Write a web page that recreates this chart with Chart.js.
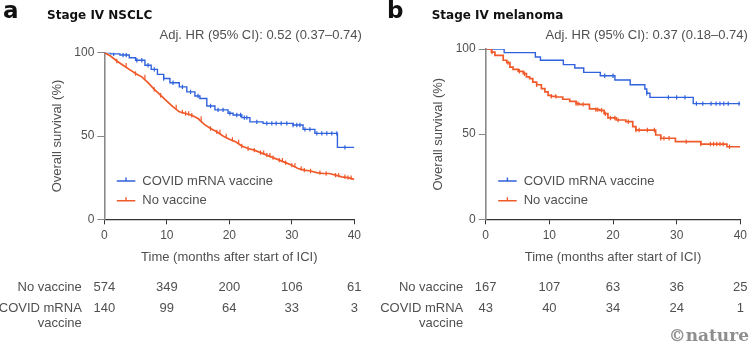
<!DOCTYPE html>
<html>
<head>
<meta charset="utf-8">
<script src="https://cdn.jsdelivr.net/npm/chart.js@4.4.1/dist/chart.umd.min.js"></script>
<style>
  html, body { margin: 0; padding: 0; background: #fff; }
  #wrap { position: relative; width: 751px; height: 348px; overflow: hidden; }
  #wrap canvas { position: absolute; top: 0; }
  #chartA { left: 0; }
  #chartB { left: 375px; }
</style>
</head>
<body>
<div id="wrap">
  <canvas id="chartA" width="375" height="348"></canvas>
  <canvas id="chartB" width="376" height="348"></canvas>
</div>
<script>
// --- data ---
const riskTimes = [0, 10, 20, 30, 40];

// a: Stage IV NSCLC
const nsclcVaxTime = [0, 1, 2.5, 4, 5, 6.5, 7.5, 8.5, 9.5, 10.5, 12, 13.2, 14.5, 15.3, 16.4, 17.7, 19.8, 20.6, 22, 23.3, 25.4, 30.2, 31.8, 33.7, 37.3, 40];
const nsclcVaxSurv = [100, 99.3, 98.6, 97, 95.5, 92.5, 90, 87, 84.5, 82, 79.5, 76.5, 74, 72.5, 68, 65.7, 63.7, 62.6, 61, 58.5, 57.6, 56.6, 54, 51.6, 43.2, 43.2];
const nsclcVaxCens = [1.5, 3, 3.5, 5.2, 6, 7, 8, 9.5, 11, 12.5, 13.8, 15, 17, 18.2, 19, 20.1, 21.2, 21.8, 22.4, 22.8, 24.4, 26, 26.8, 27.5, 28.3, 29.2, 30.2, 30.8, 31.3, 32.1, 32.9, 34, 34.8, 35.6, 36.4, 37.2, 38.5];
const nsclcNoTime = [0, 1, 2, 3, 4, 5, 6, 7, 8, 9, 10, 11, 12, 13, 14, 15, 16, 17, 18, 19, 20, 21, 22, 23, 24, 25, 26, 27, 28, 29, 30, 31, 32, 33, 34, 35, 36, 37, 38, 39, 40];
const nsclcNoSurv = [100, 98, 95, 92.5, 90, 87.5, 85.5, 82, 78, 74.5, 71, 67.5, 64.5, 63.5, 62.5, 60.5, 57, 54.5, 52.5, 50, 48, 46.5, 44, 42.5, 41.5, 40, 38.5, 37, 35.5, 34, 32.5, 30.5, 29.5, 29, 28, 27.5, 27.5, 26.5, 25.5, 25, 24];
const nsclcNoCens = [2, 3.5, 5, 6.5, 8, 9, 11.5, 12.5, 13, 13.5, 14, 15.5, 17, 18, 18.5, 19.5, 20.5, 21.5, 22, 23, 24, 25, 25.5, 26, 26.5, 27, 28, 28.5, 29, 30, 30.5, 31.5, 32, 33, 34.5, 35.5, 37, 37.5, 38.5, 39, 39.5];
const nsclcRiskNo = [574, 349, 200, 106, 61];
const nsclcRiskVax = [140, 99, 64, 33, 3];

// b: Stage IV melanoma
const melVaxTime = [0, 2.9, 7.8, 8.6, 12.2, 14.0, 15.4, 18.0, 20.3, 22.7, 25.0, 25.3, 25.8, 32.6, 40];
const melVaxSurv = [100, 97.9, 95.3, 93.4, 90.8, 88.8, 86.3, 84.3, 81.8, 79.0, 76.5, 74.0, 71.6, 67.9, 67.9];
const melVaxCens = [18.7, 20.0, 25.3, 28.7, 30.0, 31.3, 33.1, 34.1, 35.4, 36.2, 36.8, 37.4, 38.1, 39.8];
const melNoTime = [0, 0.9, 1.45, 2.75, 3.3, 3.8, 4.3, 5.1, 5.9, 6.4, 6.9, 7.4, 8.0, 8.75, 9.3, 9.8, 10.3, 11.1, 12.1, 13.2, 14.2, 14.7, 16.3, 17.3, 17.9, 18.6, 19.2, 20.5, 22, 23.1, 23.6, 26.7, 27.5, 29.8, 33.8, 37.9, 40];
const melNoSurv = [100, 98.2, 96.3, 93.4, 92, 89.4, 88, 86.9, 85.5, 83.6, 82.6, 80.6, 79.0, 76.7, 74.8, 72.8, 72.2, 71.8, 70.5, 69.3, 67.9, 67.5, 64.9, 64.4, 64, 62, 59.5, 58.3, 57.3, 54.4, 52.4, 49.5, 47.6, 45.6, 44.2, 42.6, 42.6];
const melNoCens = [1, 3.5, 5.3, 6.1, 8, 10.3, 11, 14.2, 14.5, 15.3, 17.3, 17.6, 18.2, 18.8, 19.6, 20.3, 20.8, 22.4, 23.6, 24.1, 25.4, 26.5, 27.5, 28.0, 28.8, 31.5, 33.8, 35.3, 35.8, 36.3, 36.8, 37.3, 38.3];
const melRiskNo = [167, 107, 63, 36, 25];
const melRiskVax = [43, 40, 34, 24, 1];

const BLUE = '#2f62dc';
const RED = '#f05a2a';
const FONT = "'Liberation Sans', Arial, sans-serif";
const GREY = '#505050';

function pts(times, surv) {
  return times.map((t, i) => ({ x: t, y: surv[i] }));
}

// survival value of a step curve at time t
function survAt(times, surv, t) {
  let v = surv[0];
  for (let i = 0; i < times.length; i++) {
    if (times[i] <= t) v = surv[i];
  }
  return v;
}

// texts around the plot: panel letter, title, HR, legend, axis titles, risk table
const panelDecor = {
  id: 'panelDecor',
  afterDraw(chart, args, o) {
    const ctx = chart.ctx;
    const ca = chart.chartArea;
    const xs = chart.scales.x;
    ctx.save();

    ctx.fillStyle = '#111';
    ctx.textBaseline = 'alphabetic';
    ctx.textAlign = 'left';
    ctx.font = "bold 23px 'DejaVu Sans', sans-serif";
    ctx.fillText(o.letter, o.letterX, 18);
    ctx.font = "bold 12px 'DejaVu Sans', sans-serif";
    ctx.fillText(o.title, o.titleX, 19);

    ctx.fillStyle = GREY;
    ctx.font = '13px ' + FONT;
    ctx.textAlign = 'right';
    ctx.textBaseline = 'middle';
    ctx.fillText(o.hr, ca.right + 7.5, 35);

    // legend
    const items = [[o.vaxLabel, BLUE, 181], [o.noLabel, RED, 200.7]];
    items.forEach(([txt, col, y]) => {
      ctx.strokeStyle = col;
      ctx.lineWidth = 1.4;
      ctx.beginPath();
      ctx.moveTo(ca.left + 12.5, y);
      ctx.lineTo(ca.left + 31, y);
      ctx.moveTo(ca.left + 21.7, y);
      ctx.lineTo(ca.left + 21.7, y - 3.5);
      ctx.stroke();
      ctx.fillStyle = GREY;
      ctx.textAlign = 'left';
      ctx.fillText(txt, ca.left + 38, y);
    });

    // axis titles
    ctx.textAlign = 'center';
    ctx.fillText(o.xTitle, (ca.left + ca.right) / 2, 257.7);
    ctx.save();
    ctx.translate(ca.left - 47, (ca.top + ca.bottom) / 2);
    ctx.rotate(-Math.PI / 2);
    ctx.fillText(o.yTitle, 0, 0);
    ctx.restore();

    // numbers at risk
    ctx.textAlign = 'right';
    ctx.fillText(o.noLabel, ca.left - 22.5, 287.3);
    ctx.fillText('COVID mRNA', ca.left - 22.5, 308.3);
    ctx.fillText('vaccine', ca.left - 22.5, 323.3);
    ctx.textAlign = 'center';
    riskTimes.forEach((t, i) => {
      const x = xs.getPixelForValue(t);
      ctx.fillText(String(o.riskNo[i]), x, 287.3);
      ctx.fillText(String(o.riskVax[i]), x, 308.3);
    });

    if (o.credit) {
      ctx.fillStyle = '#8e8e8e';
      ctx.textAlign = 'right';
      ctx.font = "bold 17px 'DejaVu Serif', serif";
      ctx.fillText(o.credit, 374, 337);
    }
    ctx.restore();
  }
};

function makeChart(id, c) {
  const censorSet = (times, surv, cens, col) => ({
    type: 'scatter',
    data: cens.map(t => ({ x: t, y: survAt(times, surv, t) })),
    pointStyle: 'line',
    rotation: 90,
    pointRadius: 2.2,
    pointBorderWidth: 1.2,
    borderColor: col,
    backgroundColor: col,
    showLine: false
  });
  return new Chart(document.getElementById(id), {
    type: 'line',
    data: {
      datasets: [
        { data: pts(c.noT, c.noS), borderColor: RED, borderWidth: 1.7, stepped: c.redStepped, pointRadius: 0, fill: false },
        censorSet(c.noT, c.noS, c.noC, RED),
        { data: pts(c.vaxT, c.vaxS), borderColor: BLUE, borderWidth: 1.4, stepped: true, pointRadius: 0, fill: false },
        censorSet(c.vaxT, c.vaxS, c.vaxC, BLUE)
      ]
    },
    options: {
      responsive: false,
      animation: false,
      events: [],
      layout: { padding: { left: 0, top: c.top, right: c.right, bottom: 0 } },
      scales: {
        x: {
          type: 'linear', min: 0, max: 40,
          ticks: { stepSize: 10, color: GREY, font: { family: FONT, size: 12 }, padding: 4 },
          grid: { drawOnChartArea: false, tickLength: 5, color: '#333' },
          border: { color: '#333', width: 1.2 },
          afterFit(s) { s.height = 348 - c.bottom; }
        },
        y: {
          min: 0, max: 100,
          ticks: { stepSize: 50, color: GREY, font: { family: FONT, size: 12 }, padding: 3 },
          grid: { drawOnChartArea: false, tickLength: 7, color: '#888' },
          border: { color: '#8a8a8a', width: 1.6 },
          afterFit(s) { s.width = c.left; }
        }
      },
      plugins: {
        legend: { display: false },
        tooltip: { enabled: false },
        panelDecor: c.decor
      }
    },
    plugins: [panelDecor]
  });
}

const common = {
  hr: '', vaxLabel: 'COVID mRNA vaccine', noLabel: 'No vaccine',
  xTitle: 'Time (months after start of ICI)', yTitle: 'Overall survival (%)'
};

makeChart('chartA', {
  left: 104.3, right: 375 - 354.3, top: 52.7, bottom: 219.3,
  vaxT: nsclcVaxTime, vaxS: nsclcVaxSurv, vaxC: nsclcVaxCens,
  noT: nsclcNoTime, noS: nsclcNoSurv, noC: nsclcNoCens, redStepped: false,
  decor: Object.assign({}, common, {
    letter: 'a', letterX: 3, title: 'Stage IV NSCLC', titleX: 47,
    hr: 'Adj. HR (95% CI): 0.52 (0.37–0.74)',
    riskNo: nsclcRiskNo, riskVax: nsclcRiskVax
  })
});

makeChart('chartB', {
  left: 110.7, right: 376 - 366.7, top: 49, bottom: 219.3,
  vaxT: melVaxTime, vaxS: melVaxSurv, vaxC: melVaxCens,
  noT: melNoTime, noS: melNoSurv, noC: melNoCens, redStepped: true,
  decor: Object.assign({}, common, {
    letter: 'b', letterX: 12, title: 'Stage IV melanoma', titleX: 56.7,
    hr: 'Adj. HR (95% CI): 0.37 (0.18–0.74)',
    riskNo: melRiskNo, riskVax: melRiskVax, credit: '©nature'
  })
});
</script>
</body>
</html>
